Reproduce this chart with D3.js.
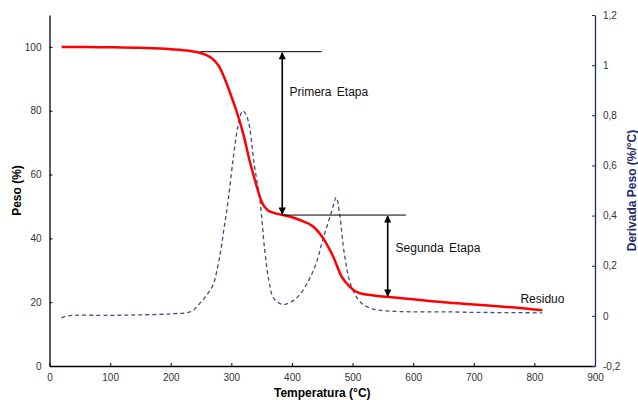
<!DOCTYPE html>
<html>
<head>
<meta charset="utf-8">
<script src="https://cdn.jsdelivr.net/npm/d3@7"></script>
<style>
  body { margin: 0; background: #fff; }
  text { font-family: "Liberation Sans", Arial, sans-serif; }
</style>
</head>
<body>
<div id="chart"></div>
<script>
// TGA curve (weight %) and DTG curve (%/°C)
var tgaTemp = [20, 60, 100, 150, 200, 230, 245, 258, 270, 280, 290, 300, 310, 320, 330, 340, 350, 360, 370, 385, 400, 415, 435, 455, 468, 482, 495, 512, 535, 556, 600, 650, 700, 750, 813];
var tgaWeight = [100, 100, 99.9, 99.7, 99.3, 98.8, 98.3, 97.5, 96.1, 93.8, 89.6, 84.5, 79, 72.5, 64.5, 57.5, 51.5, 48.8, 48, 47.3, 46.6, 45.6, 43.7, 39, 34.3, 28, 24.9, 22.8, 22.1, 21.7, 20.9, 20, 19.3, 18.6, 17.5];

var dtgTemp = [20, 30, 100, 150, 200, 234, 248, 260, 270, 281, 288, 295, 303, 311, 319, 327, 338, 347, 355, 362, 370, 385, 400, 413, 427, 440, 451, 465, 473, 479, 487, 498, 514, 533, 556, 600, 650, 700, 750, 813];
var dtgRate = [-0.008, 0, 0.002, 0.004, 0.008, 0.018, 0.05, 0.085, 0.125, 0.24, 0.35, 0.465, 0.625, 0.757, 0.818, 0.785, 0.6, 0.465, 0.265, 0.14, 0.07, 0.045, 0.058, 0.085, 0.138, 0.21, 0.305, 0.412, 0.472, 0.4, 0.238, 0.118, 0.052, 0.028, 0.02, 0.016, 0.016, 0.014, 0.013, 0.012];

var xTicks = [0, 100, 200, 300, 400, 500, 600, 700, 800, 900];
var yLeftTicks = [0, 20, 40, 60, 80, 100];
var yRightTicks = [-0.2, 0, 0.2, 0.4, 0.6, 0.8, 1, 1.2];

// annotation: stage levels and arrows (data units)
var stageLevels = [98.5, 47.3, 21.6];
var stageLineFrom = [249, 384];
var stageLineTo = [449, 588];
var arrowTemp = [384, 558];
var stageLabels = ["Primera Etapa", "Segunda Etapa", "Residuo"];
var labelTemp = [396, 571, 777];
var labelWeight = [84.5, 35.7, 19.8];

var svgWidth = 638;
var svgHeight = 400;
var margin = { top: 15, right: 43, bottom: 34, left: 49.5 };
var width = svgWidth - margin.left - margin.right;
var height = svgHeight - margin.top - margin.bottom;
var navy = "#1c2a6b";

var svg = d3.select("#chart")
  .append("svg")
  .attr("width", svgWidth)
  .attr("height", svgHeight);

var defs = svg.append("defs");
defs.append("marker")
  .attr("id", "head")
  .attr("viewBox", "0 0 10 10")
  .attr("refX", 9)
  .attr("refY", 5)
  .attr("markerWidth", 5)
  .attr("markerHeight", 4.5)
  .attr("markerUnits", "strokeWidth")
  .attr("orient", "auto-start-reverse")
  .append("path")
  .attr("d", "M0,0 L10,5 L0,10 Z")
  .attr("fill", "#000");

var chartGroup = svg.append("g")
  .attr("transform", `translate(${margin.left}, ${margin.top})`);

var xScale = d3.scaleLinear().domain([0, 900]).range([0, width]);
var yLeft = d3.scaleLinear().domain([0, 110]).range([height, 0]);
var yRight = d3.scaleLinear().domain([-0.2, 1.2]).range([height, 0]);

var commaFmt = d => String(+d.toFixed(1)).replace(".", ",");

// axes
var bottomAxis = chartGroup.append("g")
  .attr("transform", `translate(0, ${height})`)
  .call(d3.axisBottom(xScale).tickValues(xTicks).tickSize(-3).tickPadding(8).tickSizeOuter(0));

var leftAxis = chartGroup.append("g")
  .call(d3.axisLeft(yLeft).tickValues(yLeftTicks).tickSize(-3).tickPadding(8).tickSizeOuter(0));

var rightAxis = chartGroup.append("g")
  .attr("transform", `translate(${width}, 0)`)
  .call(d3.axisRight(yRight).tickValues(yRightTicks).tickFormat(commaFmt).tickSize(-3).tickPadding(8).tickSizeOuter(0));

[bottomAxis, leftAxis, rightAxis].forEach(function(ax) {
  ax.attr("font-family", null).attr("font-size", null);
  ax.selectAll("text")
    .style("font-family", "'Liberation Sans', Arial, sans-serif")
    .style("font-size", "10px")
    .attr("fill", "#333");
});
bottomAxis.select(".domain").attr("stroke", "#000").attr("stroke-width", 1.3);
leftAxis.select(".domain").attr("stroke", "#000").attr("stroke-width", 1.3);
rightAxis.select(".domain").attr("stroke", navy).attr("stroke-width", 1.3);
rightAxis.selectAll(".tick line").attr("stroke", navy);

// DTG dashed
var dtgData = dtgTemp.map((t, i) => ({ t: t, v: dtgRate[i] }));
chartGroup.append("path")
  .datum(dtgData)
  .attr("fill", "none")
  .attr("stroke", "#3d5079")
  .attr("stroke-width", 1.3)
  .attr("stroke-dasharray", "4,3")
  .attr("d", d3.line().x(d => xScale(d.t)).y(d => yRight(d.v)).curve(d3.curveCatmullRom.alpha(0.5)));

// TGA red
var tgaData = tgaTemp.map((t, i) => ({ t: t, v: tgaWeight[i] }));
chartGroup.append("path")
  .datum(tgaData)
  .attr("fill", "none")
  .attr("stroke", "#ff0000")
  .attr("stroke-width", 2.5)
  .attr("d", d3.line().x(d => xScale(d.t)).y(d => yLeft(d.v)).curve(d3.curveMonotoneX));

// stage lines
stageLineFrom.forEach(function(t0, i) {
  chartGroup.append("line")
    .attr("x1", xScale(t0))
    .attr("x2", xScale(stageLineTo[i]))
    .attr("y1", yLeft(stageLevels[i]))
    .attr("y2", yLeft(stageLevels[i]))
    .attr("stroke", "#000")
    .attr("stroke-width", 1);
});

// double arrows
arrowTemp.forEach(function(t, i) {
  chartGroup.append("line")
    .attr("x1", xScale(t))
    .attr("x2", xScale(t))
    .attr("y1", yLeft(stageLevels[i]) + 1)
    .attr("y2", yLeft(stageLevels[i + 1]) - 1)
    .attr("stroke", "#000")
    .attr("stroke-width", 1.6)
    .attr("marker-start", "url(#head)")
    .attr("marker-end", "url(#head)");
});

// labels
stageLabels.forEach(function(s, i) {
  chartGroup.append("text")
    .attr("x", xScale(labelTemp[i]))
    .attr("y", yLeft(labelWeight[i]))
    .style("font-size", "12px")
    .style("word-spacing", "2px")
    .attr("fill", "#111")
    .text(s);
});

// axis titles
svg.append("text")
  .attr("transform", `translate(${margin.left + width / 2}, 397)`)
  .attr("text-anchor", "middle")
  .style("font-size", "12px")
  .style("font-weight", "bold")
  .text("Temperatura (°C)");

svg.append("text")
  .attr("transform", `translate(21, ${margin.top + height / 2}) rotate(-90)`)
  .attr("text-anchor", "middle")
  .style("font-size", "12px")
  .style("font-weight", "bold")
  .text("Peso (%)");

svg.append("text")
  .attr("transform", `translate(636, ${margin.top + height / 2}) rotate(-90)`)
  .attr("text-anchor", "middle")
  .style("font-size", "12px")
  .style("font-weight", "bold")
  .attr("fill", navy)
  .text("Derivada Peso (%/°C)");
</script>
</body>
</html>
